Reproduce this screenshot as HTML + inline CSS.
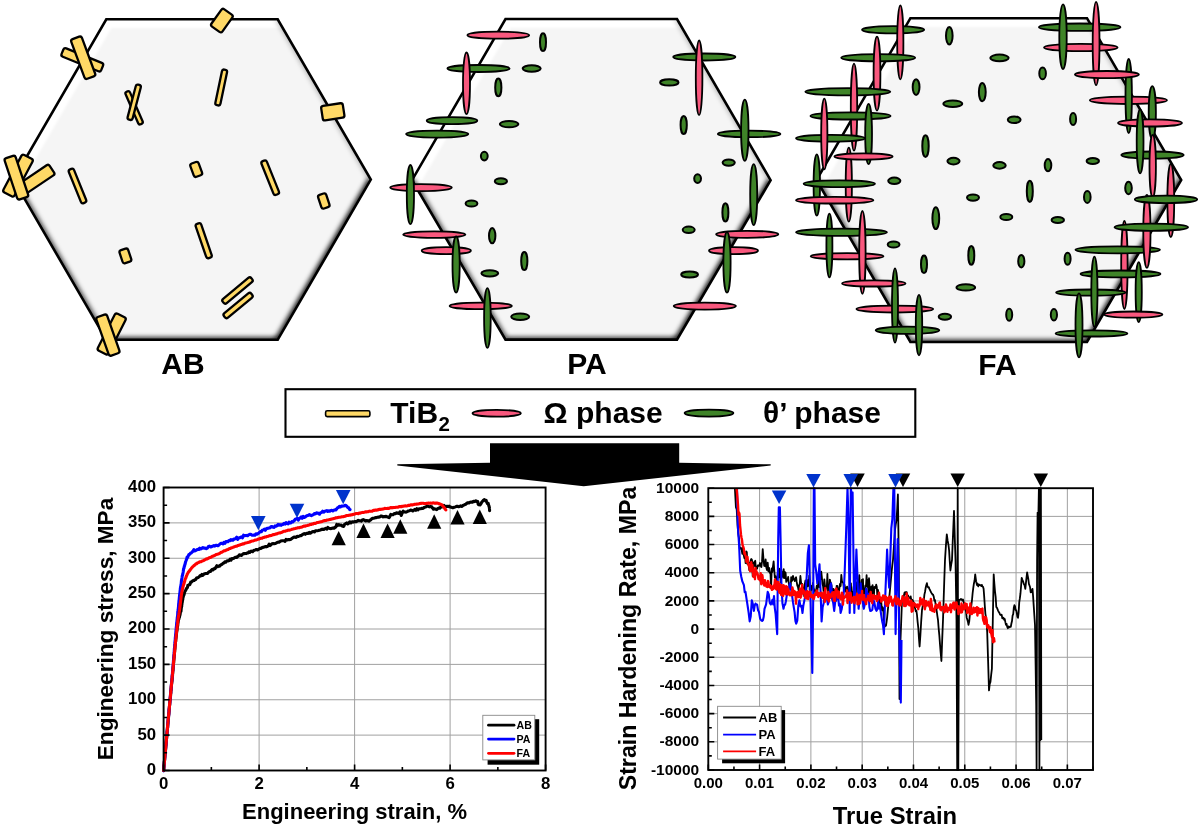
<!DOCTYPE html><html><head><meta charset="utf-8"><style>html,body{margin:0;padding:0;background:#fff;overflow:hidden}svg{display:block;will-change:transform}</style></head><body>
<svg width="1200" height="828" viewBox="0 0 1200 828" font-family='"Liberation Sans", sans-serif'>
<defs>
<filter id="bl12" filterUnits="userSpaceOnUse" x="0" y="0" width="1200" height="828"><feGaussianBlur stdDeviation="1.2"/></filter>
<filter id="bl15" filterUnits="userSpaceOnUse" x="0" y="0" width="1200" height="828"><feGaussianBlur stdDeviation="1.5"/></filter>
<filter id="bl20" filterUnits="userSpaceOnUse" x="0" y="0" width="1200" height="828"><feGaussianBlur stdDeviation="2.4"/></filter>
<filter id="bl28" filterUnits="userSpaceOnUse" x="0" y="0" width="1200" height="828"><feGaussianBlur stdDeviation="2.8"/></filter>
</defs>
<rect width="1200" height="828" fill="#fff"/>
<clipPath id="clipAB"><polygon points="106.3,19.3 277.7,19.3 370.8,179.6 277.7,339.8 106.3,339.8 13.4,179.6"/></clipPath>
<g clip-path="url(#clipAB)">
<polygon points="106.3,19.3 277.7,19.3 370.8,179.6 277.7,339.8 106.3,339.8 13.4,179.6" fill="#f5f5f5"/>
<path d="M13.4 179.6 L106.3 19.3 L277.7 19.3 L317.7 19.3" fill="none" stroke="#fff" stroke-width="17.5" stroke-linejoin="miter" filter="url(#bl12)"/>
<path d="M370.8 179.6 L277.7 339.8 L274.7 339.8" fill="none" stroke="#000" stroke-width="5.72" stroke-linejoin="miter" filter="url(#bl28)"/>
<path d="M277.7 339.8 L106.3 339.8" fill="none" stroke="#000" stroke-width="4.4" stroke-linejoin="miter" filter="url(#bl20)"/>
<path d="M106.3 339.8 L13.4 179.6" fill="none" stroke="#000" stroke-opacity="0.85" stroke-width="4.62" filter="url(#bl20)"/>
<path d="M277.7 19.3 L370.8 179.6" fill="none" stroke="#000" stroke-opacity="0.35" stroke-width="3.52" filter="url(#bl20)"/>
</g>
<polygon points="106.3,19.3 277.7,19.3 370.8,179.6 277.7,339.8 106.3,339.8 13.4,179.6" fill="none" stroke="#000" stroke-width="2.6" stroke-linejoin="miter"/>
<clipPath id="clipPA"><polygon points="505.5,19 677,19 770.6,180.2 677,339.6 505.5,339.6 412,180.2"/></clipPath>
<g clip-path="url(#clipPA)">
<polygon points="505.5,19 677,19 770.6,180.2 677,339.6 505.5,339.6 412,180.2" fill="#f5f5f5"/>
<path d="M412 180.2 L505.5 19 L677 19 L717 19" fill="none" stroke="#fff" stroke-width="17.5" stroke-linejoin="miter" filter="url(#bl12)"/>
<path d="M770.6 180.2 L677 339.6 L674 339.6" fill="none" stroke="#000" stroke-width="5.72" stroke-linejoin="miter" filter="url(#bl28)"/>
<path d="M677 339.6 L505.5 339.6" fill="none" stroke="#000" stroke-width="4.4" stroke-linejoin="miter" filter="url(#bl20)"/>
<path d="M505.5 339.6 L412 180.2" fill="none" stroke="#000" stroke-opacity="0.85" stroke-width="4.62" filter="url(#bl20)"/>
<path d="M677 19 L770.6 180.2" fill="none" stroke="#000" stroke-opacity="0.35" stroke-width="3.52" filter="url(#bl20)"/>
</g>
<polygon points="505.5,19 677,19 770.6,180.2 677,339.6 505.5,339.6 412,180.2" fill="none" stroke="#000" stroke-width="2.6" stroke-linejoin="miter"/>
<clipPath id="clipFA"><polygon points="910.4,18.2 1087,18.2 1181.2,180 1087,342 910.4,342 816.5,180"/></clipPath>
<g clip-path="url(#clipFA)">
<polygon points="910.4,18.2 1087,18.2 1181.2,180 1087,342 910.4,342 816.5,180" fill="#f5f5f5"/>
<path d="M816.5 180 L910.4 18.2 L1087 18.2 L1127 18.2" fill="none" stroke="#fff" stroke-width="17.5" stroke-linejoin="miter" filter="url(#bl12)"/>
<path d="M1181.2 180 L1087 342 L1084 342" fill="none" stroke="#000" stroke-width="5.72" stroke-linejoin="miter" filter="url(#bl28)"/>
<path d="M1087 342 L910.4 342" fill="none" stroke="#000" stroke-width="4.4" stroke-linejoin="miter" filter="url(#bl20)"/>
<path d="M910.4 342 L816.5 180" fill="none" stroke="#000" stroke-opacity="0.85" stroke-width="4.62" filter="url(#bl20)"/>
<path d="M1087 18.2 L1181.2 180" fill="none" stroke="#000" stroke-opacity="0.35" stroke-width="3.52" filter="url(#bl20)"/>
</g>
<polygon points="910.4,18.2 1087,18.2 1181.2,180 1087,342 910.4,342 816.5,180" fill="none" stroke="#000" stroke-width="2.6" stroke-linejoin="miter"/>
<rect x="-6.75" y="-10.6" width="13.5" height="21.2" rx="2.2" transform="translate(221.9 20.6) rotate(35.5)" fill="#FFD966" stroke="#000" stroke-width="2.3"/>
<rect x="-21.4" y="-4.55" width="42.8" height="9.1" rx="2.2" transform="translate(82.3 59.8) rotate(22.2)" fill="#FFD966" stroke="#000" stroke-width="2.3"/>
<rect x="-5.7" y="-21.15" width="11.4" height="42.3" rx="2.2" transform="translate(83.2 57.7) rotate(-20.3)" fill="#FFD966" stroke="#000" stroke-width="2.3"/>
<rect x="-2.4" y="-17.7" width="4.8" height="35.4" rx="1.92" transform="translate(134.1 107.8) rotate(-23.5)" fill="#FFD966" stroke="#000" stroke-width="2.3"/>
<rect x="-2.6" y="-18.05" width="5.2" height="36.1" rx="2.08" transform="translate(134.2 102.3) rotate(14.7)" fill="#FFD966" stroke="#000" stroke-width="2.3"/>
<rect x="-2.6" y="-18.2" width="5.2" height="36.4" rx="2.08" transform="translate(221.2 87.5) rotate(11.8)" fill="#FFD966" stroke="#000" stroke-width="2.3"/>
<rect x="-10.95" y="-7.3" width="21.9" height="14.6" rx="2.2" transform="translate(332.8 111.8) rotate(-8.7)" fill="#FFD966" stroke="#000" stroke-width="2.3"/>
<rect x="-6.3" y="-21.2" width="12.6" height="42.4" rx="2.2" transform="translate(18 175.6) rotate(28)" fill="#FFD966" stroke="#000" stroke-width="2.3"/>
<rect x="-19.7" y="-6.05" width="39.4" height="12.1" rx="2.2" transform="translate(35.5 180.1) rotate(-34)" fill="#FFD966" stroke="#000" stroke-width="2.3"/>
<rect x="-5.8" y="-21.7" width="11.6" height="43.4" rx="2.2" transform="translate(16.4 177.6) rotate(-18.4)" fill="#FFD966" stroke="#000" stroke-width="2.3"/>
<rect x="-2.8" y="-18.2" width="5.6" height="36.4" rx="2.2" transform="translate(77.5 186) rotate(-22)" fill="#FFD966" stroke="#000" stroke-width="2.3"/>
<rect x="-4.4" y="-7.05" width="8.8" height="14.1" rx="2.2" transform="translate(196.2 169.4) rotate(-20)" fill="#FFD966" stroke="#000" stroke-width="2.3"/>
<rect x="-2.9" y="-18.15" width="5.8" height="36.3" rx="2.2" transform="translate(270.2 177.7) rotate(-21.9)" fill="#FFD966" stroke="#000" stroke-width="2.3"/>
<rect x="-4.25" y="-7.2" width="8.5" height="14.4" rx="2.2" transform="translate(323.8 201) rotate(-18.3)" fill="#FFD966" stroke="#000" stroke-width="2.3"/>
<rect x="-2.9" y="-18.1" width="5.8" height="36.2" rx="2.2" transform="translate(203.7 240.7) rotate(-19)" fill="#FFD966" stroke="#000" stroke-width="2.3"/>
<rect x="-4.55" y="-6.85" width="9.1" height="13.7" rx="2.2" transform="translate(125.4 255.9) rotate(-18.4)" fill="#FFD966" stroke="#000" stroke-width="2.3"/>
<rect x="-18.55" y="-2.8" width="37.1" height="5.6" rx="2.2" transform="translate(237.5 290.5) rotate(-39.7)" fill="#FFD966" stroke="#000" stroke-width="2.3"/>
<rect x="-17.7" y="-2.8" width="35.4" height="5.6" rx="2.2" transform="translate(238.1 305.5) rotate(-39.6)" fill="#FFD966" stroke="#000" stroke-width="2.3"/>
<rect x="-6.05" y="-20.7" width="12.1" height="41.4" rx="2.2" transform="translate(111.7 334) rotate(26.9)" fill="#FFD966" stroke="#000" stroke-width="2.3"/>
<rect x="-5.7" y="-20.45" width="11.4" height="40.9" rx="2.2" transform="translate(107.9 335.1) rotate(-19.4)" fill="#FFD966" stroke="#000" stroke-width="2.3"/>
<ellipse cx="498.3" cy="35.2" rx="30.9" ry="3.5" fill="#F9587E" stroke="#000" stroke-width="1.8"/>
<ellipse cx="543" cy="42.2" rx="3" ry="8.9" fill="#3F8428" stroke="#000" stroke-width="2.0"/>
<ellipse cx="478.5" cy="68.5" rx="31.1" ry="3.5" fill="#3F8428" stroke="#000" stroke-width="1.8"/>
<ellipse cx="466.5" cy="83.3" rx="3.5" ry="30.8" fill="#F9587E" stroke="#000" stroke-width="1.8"/>
<ellipse cx="531.7" cy="68.5" rx="9" ry="3.2" fill="#3F8428" stroke="#000" stroke-width="2.0"/>
<ellipse cx="498.3" cy="87.4" rx="3.1" ry="8.9" fill="#3F8428" stroke="#000" stroke-width="2.0"/>
<ellipse cx="452" cy="120.7" rx="25.3" ry="3.5" fill="#3F8428" stroke="#000" stroke-width="1.8"/>
<ellipse cx="509.1" cy="124.1" rx="9.2" ry="3.2" fill="#3F8428" stroke="#000" stroke-width="2.0"/>
<ellipse cx="437.2" cy="134.1" rx="31.1" ry="3.5" fill="#3F8428" stroke="#000" stroke-width="1.8"/>
<ellipse cx="484.3" cy="156.1" rx="3.4" ry="4.3" fill="#3F8428" stroke="#000" stroke-width="2.0"/>
<ellipse cx="500.9" cy="181.3" rx="6.1" ry="3" fill="#3F8428" stroke="#000" stroke-width="2.0"/>
<ellipse cx="421" cy="187.6" rx="30.8" ry="3.5" fill="#F9587E" stroke="#000" stroke-width="1.8"/>
<ellipse cx="410.4" cy="194.6" rx="3.6" ry="29.6" fill="#3F8428" stroke="#000" stroke-width="1.8"/>
<ellipse cx="471.5" cy="203.4" rx="5.9" ry="3" fill="#3F8428" stroke="#000" stroke-width="2.0"/>
<ellipse cx="434.3" cy="234.6" rx="31.1" ry="3.3" fill="#F9587E" stroke="#000" stroke-width="1.8"/>
<ellipse cx="446.3" cy="250.7" rx="24.6" ry="3.5" fill="#F9587E" stroke="#000" stroke-width="1.8"/>
<ellipse cx="456.1" cy="264.6" rx="3.6" ry="28.1" fill="#3F8428" stroke="#000" stroke-width="1.8"/>
<ellipse cx="492.2" cy="235.7" rx="3.2" ry="7.6" fill="#3F8428" stroke="#000" stroke-width="2.0"/>
<ellipse cx="524.3" cy="261.1" rx="3.1" ry="9" fill="#3F8428" stroke="#000" stroke-width="2.0"/>
<ellipse cx="489.8" cy="273.3" rx="8.4" ry="3.1" fill="#3F8428" stroke="#000" stroke-width="2.0"/>
<ellipse cx="480.7" cy="305.9" rx="31.1" ry="3.3" fill="#F9587E" stroke="#000" stroke-width="1.8"/>
<ellipse cx="487.4" cy="318" rx="3.3" ry="29.8" fill="#3F8428" stroke="#000" stroke-width="1.8"/>
<ellipse cx="520.2" cy="316.7" rx="9" ry="3.3" fill="#3F8428" stroke="#000" stroke-width="2.0"/>
<ellipse cx="704.3" cy="57" rx="31.1" ry="3.5" fill="#3F8428" stroke="#000" stroke-width="1.8"/>
<ellipse cx="699.1" cy="77.8" rx="3.3" ry="37.3" fill="#F9587E" stroke="#000" stroke-width="1.8"/>
<ellipse cx="669.3" cy="82.4" rx="9.2" ry="3.1" fill="#3F8428" stroke="#000" stroke-width="2.0"/>
<ellipse cx="683.7" cy="125" rx="3.1" ry="9" fill="#3F8428" stroke="#000" stroke-width="2.0"/>
<ellipse cx="749.1" cy="133.9" rx="31.3" ry="3.3" fill="#3F8428" stroke="#000" stroke-width="1.8"/>
<ellipse cx="744.8" cy="130.2" rx="3.7" ry="30.6" fill="#3F8428" stroke="#000" stroke-width="1.8"/>
<ellipse cx="728.7" cy="162.6" rx="6.1" ry="3.2" fill="#3F8428" stroke="#000" stroke-width="2.0"/>
<ellipse cx="697.6" cy="178.6" rx="3.4" ry="4.4" fill="#3F8428" stroke="#000" stroke-width="2.0"/>
<ellipse cx="753.7" cy="194.6" rx="3.5" ry="30.5" fill="#3F8428" stroke="#000" stroke-width="1.8"/>
<ellipse cx="725.4" cy="212.4" rx="3" ry="9.2" fill="#3F8428" stroke="#000" stroke-width="2.0"/>
<ellipse cx="688.7" cy="229.8" rx="6" ry="3.2" fill="#3F8428" stroke="#000" stroke-width="2.0"/>
<ellipse cx="747.2" cy="234.3" rx="31.1" ry="3.5" fill="#F9587E" stroke="#000" stroke-width="1.8"/>
<ellipse cx="733.5" cy="250.7" rx="24.5" ry="3.5" fill="#F9587E" stroke="#000" stroke-width="1.8"/>
<ellipse cx="727" cy="262.4" rx="3.6" ry="30.2" fill="#3F8428" stroke="#000" stroke-width="1.8"/>
<ellipse cx="689.6" cy="274.6" rx="8.4" ry="3" fill="#3F8428" stroke="#000" stroke-width="2.0"/>
<ellipse cx="704.8" cy="306.1" rx="31.1" ry="3.5" fill="#F9587E" stroke="#000" stroke-width="1.8"/>
<ellipse cx="893.1" cy="29.8" rx="31.1" ry="3.6" fill="#3F8428" stroke="#000" stroke-width="1.8"/>
<ellipse cx="900.3" cy="42.3" rx="3.1" ry="37" fill="#F9587E" stroke="#000" stroke-width="1.8"/>
<ellipse cx="878.2" cy="57.7" rx="37" ry="3.6" fill="#3F8428" stroke="#000" stroke-width="1.8"/>
<ellipse cx="877" cy="73.6" rx="3.4" ry="37" fill="#F9587E" stroke="#000" stroke-width="1.8"/>
<ellipse cx="847.8" cy="91.8" rx="42.5" ry="3.6" fill="#3F8428" stroke="#000" stroke-width="1.8"/>
<ellipse cx="854" cy="107.2" rx="3.2" ry="43.5" fill="#F9587E" stroke="#000" stroke-width="1.8"/>
<ellipse cx="850.5" cy="115.9" rx="40.1" ry="3.6" fill="#3F8428" stroke="#000" stroke-width="1.8"/>
<ellipse cx="868.6" cy="134" rx="3.4" ry="30.2" fill="#3F8428" stroke="#000" stroke-width="1.8"/>
<ellipse cx="830.5" cy="138.2" rx="34.5" ry="3.4" fill="#3F8428" stroke="#000" stroke-width="1.8"/>
<ellipse cx="824.3" cy="134" rx="3.1" ry="35.3" fill="#F9587E" stroke="#000" stroke-width="1.8"/>
<ellipse cx="848.8" cy="184.7" rx="3.1" ry="37" fill="#F9587E" stroke="#000" stroke-width="1.8"/>
<ellipse cx="863.5" cy="156.5" rx="29.1" ry="3.1" fill="#F9587E" stroke="#000" stroke-width="1.8"/>
<ellipse cx="816.8" cy="185" rx="3.2" ry="30.7" fill="#3F8428" stroke="#000" stroke-width="1.8"/>
<ellipse cx="839.3" cy="183.8" rx="35.7" ry="3.4" fill="#3F8428" stroke="#000" stroke-width="1.8"/>
<ellipse cx="834.7" cy="200.2" rx="38.7" ry="3.3" fill="#F9587E" stroke="#000" stroke-width="1.8"/>
<ellipse cx="847.1" cy="256.3" rx="36.4" ry="3.1" fill="#F9587E" stroke="#000" stroke-width="1.8"/>
<ellipse cx="829.4" cy="245.5" rx="3" ry="31.9" fill="#3F8428" stroke="#000" stroke-width="1.8"/>
<ellipse cx="841.5" cy="232.3" rx="45.5" ry="3.6" fill="#3F8428" stroke="#000" stroke-width="1.8"/>
<ellipse cx="862.4" cy="252.4" rx="3.2" ry="41.4" fill="#F9587E" stroke="#000" stroke-width="1.8"/>
<ellipse cx="873.8" cy="283.4" rx="31.7" ry="3.1" fill="#F9587E" stroke="#000" stroke-width="1.8"/>
<ellipse cx="894.8" cy="309.1" rx="38.4" ry="3.4" fill="#F9587E" stroke="#000" stroke-width="1.8"/>
<ellipse cx="895" cy="305.5" rx="3" ry="37.2" fill="#3F8428" stroke="#000" stroke-width="1.8"/>
<ellipse cx="907.5" cy="330.3" rx="31.8" ry="3.6" fill="#3F8428" stroke="#000" stroke-width="1.8"/>
<ellipse cx="919" cy="325.1" rx="3.2" ry="30.2" fill="#3F8428" stroke="#000" stroke-width="1.8"/>
<ellipse cx="916.1" cy="87.1" rx="3.4" ry="7.9" fill="#3F8428" stroke="#000" stroke-width="2.0"/>
<ellipse cx="925.5" cy="146.1" rx="3.2" ry="10.8" fill="#3F8428" stroke="#000" stroke-width="2.0"/>
<ellipse cx="894.3" cy="180.8" rx="6.1" ry="3.2" fill="#3F8428" stroke="#000" stroke-width="2.0"/>
<ellipse cx="935.8" cy="218.2" rx="3.4" ry="10.9" fill="#3F8428" stroke="#000" stroke-width="2.0"/>
<ellipse cx="893.6" cy="244.6" rx="5.9" ry="3" fill="#3F8428" stroke="#000" stroke-width="2.0"/>
<ellipse cx="924" cy="264.3" rx="3" ry="8.7" fill="#3F8428" stroke="#000" stroke-width="2.0"/>
<ellipse cx="944.9" cy="316.8" rx="6.2" ry="3" fill="#3F8428" stroke="#000" stroke-width="2.0"/>
<ellipse cx="965.8" cy="287.4" rx="9.3" ry="3.2" fill="#3F8428" stroke="#000" stroke-width="2.0"/>
<ellipse cx="949.3" cy="35.7" rx="3.3" ry="8.8" fill="#3F8428" stroke="#000" stroke-width="2.0"/>
<ellipse cx="999.5" cy="57.9" rx="9.1" ry="3.3" fill="#3F8428" stroke="#000" stroke-width="2.0"/>
<ellipse cx="1042.6" cy="73.4" rx="3.3" ry="5.9" fill="#3F8428" stroke="#000" stroke-width="2.0"/>
<ellipse cx="982.3" cy="92.1" rx="3.4" ry="9.1" fill="#3F8428" stroke="#000" stroke-width="2.0"/>
<ellipse cx="952.8" cy="103.7" rx="9.4" ry="3.3" fill="#3F8428" stroke="#000" stroke-width="2.0"/>
<ellipse cx="1014.2" cy="119.8" rx="6.4" ry="3.3" fill="#3F8428" stroke="#000" stroke-width="2.0"/>
<ellipse cx="953.5" cy="161.1" rx="6.1" ry="3.3" fill="#3F8428" stroke="#000" stroke-width="2.0"/>
<ellipse cx="999.5" cy="165.4" rx="6.2" ry="3.3" fill="#3F8428" stroke="#000" stroke-width="2.0"/>
<ellipse cx="1048" cy="165.2" rx="3.3" ry="6.1" fill="#3F8428" stroke="#000" stroke-width="2.0"/>
<ellipse cx="1073.1" cy="119" rx="3" ry="6" fill="#3F8428" stroke="#000" stroke-width="2.0"/>
<ellipse cx="1092.8" cy="161.1" rx="6.2" ry="3" fill="#3F8428" stroke="#000" stroke-width="2.0"/>
<ellipse cx="1128.5" cy="188" rx="3.3" ry="6.2" fill="#3F8428" stroke="#000" stroke-width="2.0"/>
<ellipse cx="1087.3" cy="196.9" rx="3.3" ry="6" fill="#3F8428" stroke="#000" stroke-width="2.0"/>
<ellipse cx="1057.8" cy="220" rx="6.2" ry="3.1" fill="#3F8428" stroke="#000" stroke-width="2.0"/>
<ellipse cx="1067.6" cy="258.7" rx="3" ry="6" fill="#3F8428" stroke="#000" stroke-width="2.0"/>
<ellipse cx="1053.9" cy="314.7" rx="3.1" ry="5.7" fill="#3F8428" stroke="#000" stroke-width="2.0"/>
<ellipse cx="1029.8" cy="191.3" rx="3" ry="10.6" fill="#3F8428" stroke="#000" stroke-width="2.0"/>
<ellipse cx="973" cy="197.6" rx="6" ry="3.1" fill="#3F8428" stroke="#000" stroke-width="2.0"/>
<ellipse cx="1006.3" cy="217" rx="6" ry="3.1" fill="#3F8428" stroke="#000" stroke-width="2.0"/>
<ellipse cx="971.3" cy="255.4" rx="3" ry="9.3" fill="#3F8428" stroke="#000" stroke-width="2.0"/>
<ellipse cx="1021.3" cy="261.2" rx="3.1" ry="6.2" fill="#3F8428" stroke="#000" stroke-width="2.0"/>
<ellipse cx="1009.2" cy="314.8" rx="3" ry="6" fill="#3F8428" stroke="#000" stroke-width="2.0"/>
<ellipse cx="1079.7" cy="27.2" rx="40.8" ry="3.7" fill="#3F8428" stroke="#000" stroke-width="1.8"/>
<ellipse cx="1080.8" cy="47.5" rx="36.8" ry="3.6" fill="#F9587E" stroke="#000" stroke-width="1.8"/>
<ellipse cx="1063" cy="36.7" rx="3.7" ry="32.3" fill="#3F8428" stroke="#000" stroke-width="1.8"/>
<ellipse cx="1096.1" cy="43.5" rx="3.4" ry="41.7" fill="#F9587E" stroke="#000" stroke-width="1.8"/>
<ellipse cx="1128.4" cy="100.3" rx="38.6" ry="3.7" fill="#F9587E" stroke="#000" stroke-width="1.8"/>
<ellipse cx="1128.7" cy="96" rx="3.2" ry="37" fill="#3F8428" stroke="#000" stroke-width="1.8"/>
<ellipse cx="1106.9" cy="74.6" rx="32" ry="3.6" fill="#F9587E" stroke="#000" stroke-width="1.8"/>
<ellipse cx="1152.3" cy="112.5" rx="3.6" ry="26.4" fill="#3F8428" stroke="#000" stroke-width="1.8"/>
<ellipse cx="1150" cy="122.9" rx="32" ry="3.6" fill="#F9587E" stroke="#000" stroke-width="1.8"/>
<ellipse cx="1152.5" cy="155.1" rx="31.2" ry="3.6" fill="#3F8428" stroke="#000" stroke-width="1.8"/>
<ellipse cx="1140.1" cy="141.4" rx="3.4" ry="31.9" fill="#3F8428" stroke="#000" stroke-width="1.8"/>
<ellipse cx="1152.7" cy="166.1" rx="3.2" ry="31.2" fill="#F9587E" stroke="#000" stroke-width="1.8"/>
<ellipse cx="1124.4" cy="265" rx="3.2" ry="44" fill="#F9587E" stroke="#000" stroke-width="1.8"/>
<ellipse cx="1117.7" cy="249.8" rx="42.3" ry="3.5" fill="#3F8428" stroke="#000" stroke-width="1.8"/>
<ellipse cx="1120.5" cy="273.9" rx="40" ry="3.4" fill="#3F8428" stroke="#000" stroke-width="1.8"/>
<ellipse cx="1170.8" cy="200.5" rx="3.4" ry="36.5" fill="#F9587E" stroke="#000" stroke-width="1.8"/>
<ellipse cx="1146.9" cy="231.4" rx="3.6" ry="36.5" fill="#F9587E" stroke="#000" stroke-width="1.8"/>
<ellipse cx="1166" cy="199.4" rx="31.2" ry="3.7" fill="#3F8428" stroke="#000" stroke-width="1.8"/>
<ellipse cx="1151.3" cy="227.2" rx="36.8" ry="3.6" fill="#3F8428" stroke="#000" stroke-width="1.8"/>
<ellipse cx="1090.8" cy="292.6" rx="34.7" ry="3.1" fill="#3F8428" stroke="#000" stroke-width="1.8"/>
<ellipse cx="1094.4" cy="291.8" rx="3.1" ry="35.1" fill="#3F8428" stroke="#000" stroke-width="1.8"/>
<ellipse cx="1138.7" cy="292.1" rx="3.1" ry="30" fill="#3F8428" stroke="#000" stroke-width="1.8"/>
<ellipse cx="1133.3" cy="314.6" rx="29.1" ry="3.1" fill="#F9587E" stroke="#000" stroke-width="1.8"/>
<ellipse cx="1091.5" cy="333.4" rx="35.9" ry="3.1" fill="#3F8428" stroke="#000" stroke-width="1.8"/>
<ellipse cx="1079" cy="325.3" rx="3.5" ry="32" fill="#3F8428" stroke="#000" stroke-width="1.8"/>
<text transform="translate(183 374)" font-size="30" font-weight="bold" text-anchor="middle">AB</text>
<text transform="translate(587 374)" font-size="30" font-weight="bold" text-anchor="middle">PA</text>
<text transform="translate(997.5 374.5)" font-size="30" font-weight="bold" text-anchor="middle">FA</text>
<rect x="285.5" y="389.2" width="629.8" height="47.6" fill="#fff" stroke="#000" stroke-width="2.1"/>
<rect x="325.6" y="410.8" width="44.3" height="5.8" rx="1.6" fill="#FFD966" stroke="#000" stroke-width="1.6"/>
<ellipse cx="496.7" cy="413.3" rx="24.2" ry="3.4" fill="#F9587E" stroke="#000" stroke-width="1.8"/>
<ellipse cx="709.0" cy="413.1" rx="24.4" ry="3.5" fill="#3F8428" stroke="#000" stroke-width="1.8"/>
<text transform="translate(390.3 423)" font-size="30" font-weight="bold" text-anchor="start">TiB</text>
<text transform="translate(438.5 430.5)" font-size="20.5" font-weight="bold" text-anchor="start">2</text>
<text transform="translate(543.6 423.1)" font-size="30" font-weight="bold" text-anchor="start">&#937; phase</text>
<text transform="translate(763 423.1)" font-size="30" font-weight="bold" text-anchor="start">&#952;&#8217; phase</text>
<polygon points="490,443.3 679.2,443.3 679.2,462.8 770.7,464.3 770.7,465.6 583.7,486.2 397.3,465.6 397.3,464.3 490,462.8" fill="#000"/>
<line x1="259.1" y1="487.5" x2="259.1" y2="770.5" stroke="#a0a0a0" stroke-width="1"/>
<line x1="354.6" y1="487.5" x2="354.6" y2="770.5" stroke="#a0a0a0" stroke-width="1"/>
<line x1="450.1" y1="487.5" x2="450.1" y2="770.5" stroke="#a0a0a0" stroke-width="1"/>
<line x1="163.6" y1="735.12" x2="545.6" y2="735.12" stroke="#a0a0a0" stroke-width="1"/>
<line x1="163.6" y1="699.75" x2="545.6" y2="699.75" stroke="#a0a0a0" stroke-width="1"/>
<line x1="163.6" y1="664.38" x2="545.6" y2="664.38" stroke="#a0a0a0" stroke-width="1"/>
<line x1="163.6" y1="629" x2="545.6" y2="629" stroke="#a0a0a0" stroke-width="1"/>
<line x1="163.6" y1="593.62" x2="545.6" y2="593.62" stroke="#a0a0a0" stroke-width="1"/>
<line x1="163.6" y1="558.25" x2="545.6" y2="558.25" stroke="#a0a0a0" stroke-width="1"/>
<line x1="163.6" y1="522.88" x2="545.6" y2="522.88" stroke="#a0a0a0" stroke-width="1"/>
<g fill="none" stroke-linejoin="round" stroke-linecap="round">
<polyline points="163.6,770.5 163.69,770.08 163.79,769.15 163.88,767.53 163.97,766.16 164.07,765.01 164.16,764.52 164.25,763.04 164.34,761.86 164.44,761.59 164.53,760.56 164.62,759.75 164.71,758.09 164.81,757.5 164.9,756.47 164.99,754.83 165.08,754.75 165.17,753.65 165.27,753.58 165.36,751.59 165.45,750.44 165.54,750.06 165.63,748.59 165.73,747.91 165.82,746.34 165.91,745.6 166,744.97 166.09,743.82 166.18,742.56 166.28,741.02 166.37,740.7 166.46,739.54 166.55,738.83 166.64,737.6 166.73,736.99 166.83,735.48 166.92,734.6 167.01,733.81 167.1,732.02 167.19,731.32 167.28,730.28 167.38,730.4 167.47,728.46 167.56,727.8 167.65,726.78 167.74,725.38 167.84,723.81 167.93,723.94 168.02,722.32 168.11,721.83 168.21,719.92 168.3,719.31 168.39,719.07 168.48,718.15 168.58,715.92 168.67,714.91 168.76,714.49 168.85,713.84 168.95,712.58 169.04,711.65 169.13,710.06 169.23,709.77 169.32,709.01 169.41,707.31 169.51,705.86 169.6,705.17 169.7,704.85 169.79,702.73 169.88,702.47 169.98,701.07 170.07,700.45 170.17,699.4 170.26,698.52 170.36,698.19 170.45,696.7 170.55,696.11 170.64,694.45 170.74,693.3 170.83,692.69 170.93,690.24 171.03,690.5 171.12,689.59 171.22,687.96 171.32,687.73 171.41,686.27 171.51,684.41 171.61,684.42 171.7,683.08 171.8,682.29 171.9,681.45 172,681.09 172.1,679.57 172.19,678.51 172.29,677.7 172.39,675.7 172.49,676.07 172.58,674.02 172.67,673.7 172.77,671.99 172.86,671.05 172.95,670.3 173.04,670.33 173.13,668.78 173.22,667.19 173.31,666.33 173.39,664.93 173.48,664.43 173.57,663.18 173.66,662.75 173.74,660.81 173.83,660.26 173.92,659.03 174.01,658.07 174.1,657.71 174.18,656.44 174.27,655.64 174.36,654.9 174.45,653.88 174.54,651.74 174.64,651.59 174.73,649.55 174.82,649.31 174.92,649.19 175.01,647.24 175.11,646.15 175.21,645.39 175.31,644.32 175.41,643.32 175.52,641.96 175.62,641.79 175.73,640.7 175.84,639.2 175.95,638.43 176.07,637.59 176.18,636.75 176.3,635.47 176.42,634.6 176.54,633.17 176.67,631.81 176.8,631.07 176.93,630.76 177.06,629.74 177.2,628.37 177.34,627.06 177.48,626.46 177.62,626.07 177.77,624.94 177.92,623.03 178.1,622.29 178.3,620.63 178.52,619.75 178.75,619.32 179,618.23 179.26,617.63 179.52,616.75 179.78,615.53 180.04,614.73 180.3,612.87 180.54,611.58 180.77,611.29 180.98,611.24 181.17,609.18 181.35,607.48 181.51,607.08 181.66,606.58 181.81,604.44 181.96,604.23 182.1,602.56 182.25,602.38 182.41,601.14 182.58,599.9 182.76,599.64 182.96,597.55 183.17,596.43 183.42,596.58 183.71,594.36 184.06,594.76 184.45,592.78 184.89,591.36 185.34,590.88 185.8,590 186.29,589.1 186.81,587.98 187.36,587.63 187.94,585.21 188.55,585.14 189.19,584.45 189.9,584.6 190.67,582.14 191.48,582.16 192.32,581.1 193.17,580.63 194.02,580.54 194.86,579.75 195.72,579.51 196.58,577.91 197.45,577.63 198.34,577.39 199.25,576.68 200.18,575.57 201.05,575.79 201.96,574.46 202.89,575.31 203.83,574.21 204.78,573.74 205.72,573.56 206.66,573.45 207.59,573.47 208.48,572.19 209.45,571.58 210.4,571.46 211.33,570.23 212.25,569.26 213.17,569.78 214.09,568.62 215.02,568.69 215.95,567.13 216.89,565.72 217.76,566.64 218.63,566.07 219.51,566.21 220.38,565.22 221.26,564.61 222.14,564.23 223.02,563.29 223.9,562.99 224.79,561.85 225.68,562.2 226.56,561.12 227.46,560.8 228.35,560.85 229.25,560.48 230.15,559.16 231.06,560.07 231.96,558.47 232.88,558.68 233.79,558.32 234.71,557.6 235.62,557.19 236.55,557.54 237.48,556.76 238.41,556.2 239.34,554.82 240.28,554.96 241.23,555.47 242.17,554.69 243.12,553.84 244.06,553.64 245.01,553.46 245.96,553.58 246.91,553.11 247.86,553.05 248.81,551.9 249.75,552.38 250.7,551.37 251.64,551.13 252.58,551.71 253.53,550.63 254.47,550.21 255.42,549.85 256.36,549.44 257.31,549.99 258.25,549.58 259.2,548.95 260.19,548.36 261.18,548.39 262.17,547.53 263.16,547.4 264.15,547.02 265.15,546.51 266.14,546.85 267.13,546.53 268.12,545.98 269.11,544.16 270.1,545.49 271.1,544.63 272.09,543.77 273.09,543.63 274.09,543.82 275.09,543.52 276.1,543.07 277.08,542.46 278.07,542.14 279.06,542.23 280.05,541.55 281.05,540.94 282.05,540.81 283.05,540.79 284.05,540.75 285.04,541.37 286.04,539.48 287.03,540.06 288.02,539.53 289.01,539.43 289.99,539.62 291.03,539.24 292.05,538.27 293.08,537.74 294.1,537.01 295.12,537.22 296.14,537.45 297.16,536.4 298.18,536.48 299.21,536.14 300.21,535.67 301.22,535.65 302.22,534.79 303.23,534.14 304.23,533.67 305.24,534.3 306.25,533.41 307.27,533.14 308.28,533.37 309.3,532.36 310.32,533.25 311.34,532.5 312.37,531.72 313.39,531.43 314.42,531.96 315.45,530.69 316.47,530.69 317.5,530.73 318.52,530.55 319.54,530.16 320.56,530.01 321.58,529.36 322.6,529.16 323.62,529.51 324.65,528.99 325.68,528.31 326.71,529.17 327.76,527.43 328.84,528.32 329.92,528.55 331,528.65 332.06,528.23 333.07,527.95 334.02,528.3 334.97,527.49 335.85,526.89 336.73,524.47 337.7,525.38 338.88,524.64 340.14,525.27 341.28,525.12 342.3,526.03 343.19,526.44 343.8,526.21 344.36,524.65 345,524.03 345.78,523.53 346.67,522.92 347.66,523.97 348.71,523.21 349.81,521.78 350.94,522.95 352.06,521.76 353.16,522.12 354.22,521.76 355.23,521.56 356.23,521.65 357.24,521.13 358.25,520.35 359.26,520.75 360.27,520.69 361.27,521.14 362.28,520.04 363.29,519.65 364.45,520.16 365.61,520.94 366.76,520.56 367.87,520.78 368.82,521.17 369.74,520.44 370.65,519.93 371.56,518.95 372.51,518.4 373.49,518.28 374.48,518.01 375.49,517.58 376.51,517.6 377.54,517.36 378.57,517.12 379.6,516.89 380.64,516.15 381.67,516 382.79,516.89 383.92,516.6 385.04,516.75 386.15,516.31 387.21,516.91 388.98,517.64 389.62,516.91 390.16,515.77 390.79,514.42 391.75,514.67 392.92,514.81 394.17,513.67 395.38,513.72 396.6,512.8 397.88,513.18 399.05,513.38 399.96,511.85 400.66,513.54 401.25,515.52 401.83,513.93 402.49,512.46 403.18,511.17 404.03,511.77 405,512.05 406.07,512.11 407.2,511.62 408.36,510.93 409.52,510.75 410.65,510.08 411.71,510.22 412.75,510.98 413.79,510.18 414.83,509.38 415.87,510.31 416.91,508.7 417.94,509.75 418.98,508.77 420.02,508.81 421.05,508.69 422.08,508.23 423.11,508.39 424.13,507.55 425.17,507.12 426.2,506.72 427.24,506.14 428.28,506.29 429.48,506.85 430.69,506.62 431.72,506.8 432.4,507.93 432.96,508.16 433.52,509.21 434.2,508.91 435.37,509.05 436.68,509.64 437.7,508.66 438.74,508.17 439.77,508.18 440.79,506.95 441.85,507.01 442.89,506.26 443.93,505.42 444.99,506.52 446.02,506.66 447.07,506.26 448.14,506.63 449.19,506.15 450.22,506.93 451.25,507.21 452.27,507.67 453.3,507.73 454.36,507.21 455.42,506.85 456.48,506.39 457.54,506.32 458.59,506.66 459.64,506.41 460.68,505.93 461.7,506.43 462.76,505.68 463.81,505.03 464.84,504.51 465.87,504.17 466.89,503.24 467.92,502.77 468.96,502.95 470.01,502.17 471.17,501.95 472.4,502.24 473.63,501.24 474.81,501.61 475.85,500.81 476.7,501.41 477.28,501.42 477.75,501.56 478.19,504.27 478.64,504.76 479.18,504.45 479.97,504.92 480.87,503.92 481.71,502.2 482.37,501.46 482.98,500.77 483.57,500.15 484.19,499.62 484.81,500.01 485.45,500.84 486.08,500.31 486.68,502.1 487.42,503.52 488.19,503.25 488.83,505.85 489.21,507 489.34,507.24 489.43,508.45 489.51,509.24 489.59,510.71" stroke="#000" stroke-width="3.1"/>
<polyline points="163.6,770.5 163.69,770.79 163.78,768.14 163.87,767.72 163.96,766.59 164.05,765.97 164.14,763.74 164.23,763.29 164.33,762.1 164.42,760.93 164.51,760.06 164.6,759.24 164.69,758.37 164.78,757.03 164.87,756.76 164.96,755.23 165.05,752.77 165.15,754.19 165.24,752.32 165.33,751.13 165.42,750.69 165.51,749.67 165.6,748.58 165.69,747.08 165.78,746.66 165.88,744.71 165.97,745.35 166.06,742.86 166.15,742.45 166.24,741.57 166.33,740.68 166.42,739.43 166.52,738.83 166.61,735.57 166.7,736.44 166.79,735.41 166.88,734.27 166.97,734.35 167.06,731.97 167.16,731.47 167.25,729.39 167.34,729.67 167.43,727.62 167.52,726.65 167.61,727.82 167.7,725.91 167.79,724.52 167.89,723.62 167.98,721.73 168.07,720.95 168.16,720.77 168.25,718.36 168.34,718.69 168.43,716.57 168.52,716.61 168.61,714.92 168.71,715.52 168.8,714.11 168.89,712.26 168.98,710.5 169.07,710.12 169.16,709.52 169.25,708 169.34,707.72 169.43,707.11 169.52,705.53 169.61,704.32 169.7,704 169.79,702.41 169.88,702.05 169.97,700.4 170.06,700.48 170.15,698.42 170.24,696.99 170.33,696.64 170.42,695.23 170.51,694.06 170.6,693.52 170.69,693.01 170.78,690.39 170.87,690.57 170.96,689.51 171.05,688.52 171.14,688.05 171.22,685.87 171.31,685.98 171.4,684.48 171.49,683.67 171.58,682.49 171.67,681.43 171.76,680.33 171.84,679.85 171.93,679.8 172.02,678.22 172.11,677.11 172.19,675.95 172.28,674.36 172.37,673.96 172.46,673.78 172.54,670.9 172.63,671.08 172.71,670.18 172.8,668.77 172.88,668.05 172.97,667.38 173.05,666.83 173.14,665.32 173.22,664.52 173.3,662.77 173.38,662.05 173.47,660.68 173.55,659.74 173.63,658.32 173.71,657.95 173.8,657.37 173.88,655.48 173.96,654.7 174.04,653.9 174.13,652.56 174.21,652.07 174.29,650.69 174.37,648.89 174.46,647.96 174.54,647.94 174.62,646.88 174.71,646.14 174.79,644.66 174.88,643.63 174.96,641.64 175.05,642.28 175.13,639.99 175.22,640.08 175.31,637.86 175.39,637.12 175.48,636.57 175.57,635.25 175.66,634.09 175.75,633.97 175.84,632.85 175.93,631.69 176.02,630.28 176.11,629 176.21,628.19 176.3,627.16 176.4,626.44 176.49,625.87 176.59,624.33 176.7,622.95 176.8,622.02 176.91,622.05 177.01,620.4 177.12,619.41 177.23,618.41 177.35,617.55 177.46,616.28 177.57,615.82 177.68,614.59 177.79,611.55 177.9,612.01 178.01,612.69 178.12,609.33 178.22,609.09 178.32,608.61 178.42,607 178.52,606.73 178.62,604.28 178.72,603.28 178.82,602.86 178.91,601.54 179.01,600.35 179.11,600.24 179.21,599.07 179.31,597.92 179.42,596.68 179.52,596.04 179.63,594.81 179.74,593.47 179.86,593.15 179.98,592.06 180.1,590.86 180.23,590.15 180.36,588.12 180.5,587.61 180.64,586.36 180.78,586.34 180.92,584.85 181.07,584.69 181.23,583.35 181.38,581.25 181.55,579.81 181.72,579.64 181.89,578.19 182.08,577.17 182.28,575.6 182.49,575.43 182.71,574.13 182.94,573.17 183.17,572.04 183.41,570.3 183.65,568.49 183.89,568.5 184.14,567.19 184.38,566.13 184.63,565.84 184.89,564.14 185.16,563.93 185.47,562.11 185.8,561.32 186.18,560.19 186.62,559.33 187.1,557.19 187.63,557.51 188.19,556.05 188.85,554.48 189.58,554.39 190.37,553.33 191.22,553.02 192.11,552 192.96,551.24 193.9,549.63 194.88,550.98 195.88,550.48 196.88,549.76 197.84,549.34 198.82,549.54 199.81,548.21 200.81,548.9 201.8,548.36 202.91,547.61 204.03,548.2 205.14,548.04 206.26,548.63 207.37,548.05 208.48,546.47 209.54,546.1 210.6,546.95 211.67,546.69 212.73,546.1 213.78,545.6 214.83,546.07 215.87,545.29 216.89,545.28 217.94,545.79 218.96,545.02 219.98,544.01 221,543.32 222.02,543.37 223.05,543.99 224.01,542.39 224.98,543.26 225.95,541.52 226.93,541.48 227.9,541.64 228.88,540.49 229.86,540.61 230.84,539.51 231.83,540.29 232.81,540.24 233.79,538.93 234.76,539.08 235.73,538.43 236.7,537.14 237.67,539.52 238.64,538.03 239.62,537.82 240.59,537.27 241.57,536.86 242.55,537.78 243.53,535.21 244.51,535.79 245.5,535.51 246.49,535.42 247.54,535.75 248.59,534.82 249.65,534.36 250.72,534.35 251.78,535.1 252.83,535.23 253.87,534.98 254.9,535.21 256,533.74 257.09,534.16 258.15,533.52 259.2,532.55 260.26,531.6 261.29,531.79 262.33,530.23 263.4,529.86 264.32,529.1 265.25,530.24 266.21,528.92 267.17,528.35 268.15,528.2 269.14,527.92 270.13,527.83 271.13,526.57 272.12,526.61 273.12,527.27 274.12,527.33 275.11,525.92 276.1,526.26 277.09,525.61 278.08,524.41 279.08,525.24 280.08,524.57 281.09,525.41 282.09,524.57 283.09,524.42 284.09,523.39 285.09,524.03 286.08,522.62 287.07,523.54 288.05,523.89 289.03,522.17 289.99,522.99 290.93,522.95 291.86,521.68 292.78,522 293.7,521 294.61,520.23 295.52,518.95 296.43,519.02 297.35,518.37 298.27,520.1 299.21,518.56 300.2,517.96 301.2,516.96 302.2,518.31 303.21,516.39 304.22,517.53 305.23,517 306.25,516.14 307.26,515.44 308.28,515.49 309.3,514.51 310.32,515.32 311.34,515.63 312.36,514.93 313.39,514.77 314.41,513.56 315.44,513.88 316.47,512.91 317.5,513 318.52,513.44 319.54,514.22 320.57,512.69 321.59,512.48 322.62,511.24 323.65,512.19 324.67,511.4 325.7,510.93 326.71,510.66 327.73,511.34 328.75,510.82 329.78,511.18 330.8,510.44 331.81,510.32 332.82,510.87 333.83,510.22 334.81,509.9 335.79,509.96 336.72,508.88 337.63,507.75 338.53,507.36 339.43,506.42 340.35,507 341.28,506.17 342.67,506.08 344.1,505.93 345.5,505.25 346.82,506.28 347.81,507.58 348.68,507.85 349.37,509.22 350.02,509.64" stroke="#0000FF" stroke-width="3.1"/>
<polyline points="163.6,770.5 163.69,769.51 163.78,768.68 163.88,767.35 163.97,766.63 164.06,765.44 164.15,764.44 164.24,763.76 164.34,762.49 164.43,761.46 164.52,760.57 164.61,759.62 164.7,758.44 164.79,757.53 164.89,756.29 164.98,755.38 165.07,754.37 165.16,753.23 165.25,752.2 165.34,751.17 165.43,750.38 165.52,749.38 165.61,748.36 165.71,747.41 165.8,746.2 165.89,745.38 165.98,744.42 166.07,743.5 166.16,742.25 166.25,741.32 166.34,740.07 166.43,739.29 166.52,738.03 166.61,737.15 166.7,736.52 166.8,735.02 166.89,734.46 166.98,733.39 167.07,732.29 167.16,731.4 167.25,730.41 167.34,729.48 167.43,728.28 167.52,727.23 167.61,726.22 167.71,725.16 167.8,724.29 167.89,723.18 167.98,722.45 168.07,721.01 168.16,720.12 168.25,719.14 168.35,717.96 168.44,717.56 168.53,715.91 168.62,715.22 168.71,714.18 168.8,713.5 168.9,711.95 168.99,711.41 169.08,710.13 169.17,709.21 169.26,708.13 169.36,707.33 169.45,706.05 169.54,705.21 169.64,704.27 169.73,703.49 169.82,701.85 169.91,701.43 170.01,700.34 170.1,699.12 170.19,698.24 170.29,697.12 170.38,696.43 170.48,695.21 170.57,694.14 170.66,693.14 170.76,692.14 170.85,691.14 170.95,690.03 171.04,689.46 171.14,687.87 171.23,686.61 171.33,686.13 171.42,685.12 171.52,684.19 171.62,683.1 171.71,682.11 171.81,681.17 171.9,680.27 172,679.05 172.1,678.06 172.19,677.4 172.29,676.18 172.39,674.94 172.49,674.42 172.58,673.18 172.68,671.96 172.77,670.87 172.87,670.07 172.96,668.89 173.06,667.85 173.15,666.8 173.24,665.91 173.34,665.14 173.43,663.89 173.53,662.73 173.62,662.04 173.71,660.93 173.81,660.04 173.9,659.08 173.99,657.86 174.09,656.85 174.18,655.86 174.28,654.68 174.37,653.94 174.47,653.03 174.56,651.84 174.66,650.77 174.75,649.75 174.85,648.66 174.95,647.65 175.05,646.7 175.15,645.62 175.24,644.67 175.34,643.49 175.45,642.77 175.55,641.71 175.65,640.52 175.75,639.34 175.86,638.67 175.96,637.83 176.07,636.54 176.17,635.57 176.28,634.54 176.39,633.72 176.5,632.47 176.61,631.75 176.72,630.55 176.84,629.72 176.95,628.58 177.07,627.53 177.19,626.33 177.31,625.44 177.43,624.5 177.55,623.63 177.67,622.56 177.8,621.41 177.92,620.57 178.06,619.61 178.21,618.39 178.37,617.3 178.53,616.26 178.69,615.39 178.86,614.31 179.03,613.04 179.19,612.19 179.35,611.01 179.5,609.93 179.64,609.22 179.77,608.14 179.9,606.9 180.02,606.01 180.14,605.05 180.26,603.87 180.38,602.93 180.5,602.04 180.61,600.66 180.73,599.96 180.86,599.01 180.98,597.96 181.12,596.68 181.25,595.92 181.4,594.73 181.55,593.94 181.72,592.95 181.89,591.89 182.09,590.65 182.32,589.59 182.57,588.73 182.83,587.38 183.1,586.51 183.39,585.44 183.7,584.25 184.01,583.58 184.32,582.17 184.63,581.5 184.94,579.89 185.27,578.87 185.61,578.38 185.97,577.36 186.35,576.26 186.76,575.36 187.19,574.17 187.73,573.34 188.32,572.27 188.97,571.4 189.66,570.61 190.37,569.55 191.1,568.71 191.83,567.71 192.6,566.91 193.4,566.17 194.23,565.33 195.09,564.82 195.98,563.82 196.88,563.63 197.78,562.69 198.73,562.55 199.71,561.85 200.71,561.82 201.72,561.2 202.72,560.85 203.71,560.48 204.65,559.86 205.6,559.38 206.54,558.81 207.48,558.87 208.42,558.16 209.36,557.75 210.3,557.4 211.24,557.28 212.18,556.3 213.12,556.16 214.06,555.64 215.01,555.36 215.95,554.58 216.89,554.37 217.83,554.13 218.76,553.81 219.7,553.39 220.63,552.59 221.56,552.29 222.49,551.82 223.43,551.2 224.36,550.75 225.29,550.65 226.23,550.14 227.17,549.66 228.1,549.45 229.04,548.7 229.99,548.53 230.93,548.05 231.88,547.66 232.84,547.37 233.79,546.96 234.77,546.61 235.75,546.27 236.73,546.18 237.72,545.51 238.71,545.38 239.7,545 240.7,544.54 241.7,544.41 242.7,543.85 243.7,543.85 244.7,543.25 245.7,543 246.7,542.82 247.7,542.6 248.7,542.3 249.7,542 250.7,541.52 251.76,541.08 252.82,540.97 253.88,540.61 254.94,540.09 256.01,540.05 257.07,539.61 258.13,539.11 259.2,539 260.19,538.44 261.18,538.2 262.17,538.1 263.17,537.51 264.16,537.45 265.16,536.94 266.15,536.96 267.15,536.45 268.14,536.29 269.14,535.74 270.13,535.62 271.13,535.52 272.12,535.16 273.11,534.52 274.11,534.64 275.1,534.34 276.1,533.86 277.09,533.83 278.08,533.16 279.07,533.01 280.06,532.89 281.06,532.62 282.05,532.31 283.04,531.66 284.03,531.26 285.02,531.29 286.01,530.72 287.01,530.63 288,530.17 289,530.24 289.99,529.93 291.01,529.62 292.02,529.27 293.03,529.01 294.05,528.7 295.06,528.55 296.08,528.27 297.1,528.05 298.11,527.67 299.13,527.77 300.15,527.28 301.17,527.2 302.19,526.94 303.2,526.36 304.22,525.99 305.24,526.18 306.25,525.67 307.27,525.49 308.28,525.17 309.25,524.97 310.23,524.51 311.2,524.41 312.17,524.09 313.13,523.89 314.1,523.27 315.07,523.47 316.04,523.12 317.01,522.54 317.98,522.42 318.94,522.26 319.91,522.08 320.88,521.72 321.85,521.66 322.82,521.19 323.79,520.78 324.77,520.58 325.74,520.54 326.71,520.09 327.72,520.07 328.74,519.85 329.75,519.54 330.76,519.37 331.78,518.95 332.79,518.75 333.81,518.43 334.82,518.2 335.84,517.83 336.86,517.75 337.87,517.45 338.89,517.18 339.91,517.19 340.93,517.02 341.95,516.68 342.97,516.72 343.98,516.44 345,516.24 346.02,515.78 347.03,515.43 348.04,515.53 349.06,515.28 350.07,515.13 351.09,514.87 352.1,514.79 353.12,514.35 354.14,514.29 355.15,513.85 356.17,513.43 357.18,513.51 358.2,513.6 359.22,512.93 360.24,513.13 361.25,512.69 362.27,512.53 363.29,512.41 364.31,512.25 365.33,511.88 366.35,511.86 367.37,511.72 368.39,511.59 369.41,511.17 370.43,511.33 371.45,511.2 372.47,511.1 373.49,510.36 374.51,510.41 375.54,509.93 376.56,510.1 377.58,509.95 378.6,509.53 379.63,509.3 380.65,509.41 381.67,509.31 382.7,508.95 383.72,508.88 384.74,508.39 385.77,508.52 386.79,508.51 387.82,508.38 388.85,508.45 389.87,507.91 390.9,507.61 391.92,507.87 392.95,507.58 393.97,507.57 395,507.49 396.04,507.32 397.09,507.29 398.13,507.13 399.18,506.52 400.22,506.6 401.26,506.76 402.31,506.24 403.35,506.29 404.4,505.97 405.44,505.76 406.49,505.91 407.53,505.67 408.57,505.32 409.62,505.34 410.66,504.86 411.71,504.8 412.75,504.88 413.78,504.58 414.82,504.24 415.86,504.28 416.89,504.08 417.93,504.05 418.97,503.83 420.01,503.5 421.05,503.34 422.09,503.29 423.13,503.21 424.17,503.43 425.25,503.43 426.34,503.39 427.42,503.23 428.51,503.13 429.6,503.29 430.68,503.1 431.77,503.18 432.85,502.89 433.93,503.07 435.01,503.35 436.2,503.03 437.42,503.1 438.62,503.51 439.76,504.06 440.79,504.34 441.7,504.67 442.54,505.57 443.32,506.59 443.97,507.26 444.59,508.24 445.19,509.04 445.8,509.93" stroke="#FF0000" stroke-width="3.1"/>
</g>
<polygon points="251,516 265.6,516 258.3,530.2" fill="#0033CC"/>
<polygon points="289.7,503.7 304.3,503.7 297,517.9" fill="#0033CC"/>
<polygon points="335.9,490 350.5,490 343.2,504.2" fill="#0033CC"/>
<polygon points="338.7,530.9 345.8,545.3 331.6,545.3" fill="#000"/>
<polygon points="363.5,523.6 370.6,538 356.4,538" fill="#000"/>
<polygon points="387.6,523.6 394.7,538 380.5,538" fill="#000"/>
<polygon points="400.3,519.3 407.4,533.7 393.2,533.7" fill="#000"/>
<polygon points="434.2,514.3 441.3,528.7 427.1,528.7" fill="#000"/>
<polygon points="457.5,510 464.6,524.4 450.4,524.4" fill="#000"/>
<polygon points="479.8,509.6 486.9,524 472.7,524" fill="#000"/>
<path d="M163.6 770.5h6M163.6 752.81h3.5M163.6 735.12h6M163.6 717.44h3.5M163.6 699.75h6M163.6 682.06h3.5M163.6 664.38h6M163.6 646.69h3.5M163.6 629h6M163.6 611.31h3.5M163.6 593.62h6M163.6 575.94h3.5M163.6 558.25h6M163.6 540.56h3.5M163.6 522.88h6M163.6 505.19h3.5M163.6 487.5h6M163.6 770.5v-6M211.35 770.5v-3.5M259.1 770.5v-6M306.85 770.5v-3.5M354.6 770.5v-6M402.35 770.5v-3.5M450.1 770.5v-6M497.85 770.5v-3.5M545.6 770.5v-6" stroke="#000" stroke-width="1.6" fill="none"/>
<rect x="487.6" y="719.2" width="51.6" height="45.5" fill="#000"/>
<rect x="482.8" y="715.3" width="52" height="44.6" fill="#fff" stroke="#888" stroke-width="0.9"/>
<line x1="488.5" y1="725.2" x2="514" y2="725.2" stroke="#000" stroke-width="2.8" stroke-linecap="round"/>
<text transform="translate(516.5 729)" font-size="10.6" font-weight="bold" text-anchor="start">AB</text>
<line x1="488.5" y1="739.1" x2="514" y2="739.1" stroke="#0000FF" stroke-width="2.8" stroke-linecap="round"/>
<text transform="translate(516.5 742.9)" font-size="10.6" font-weight="bold" text-anchor="start">PA</text>
<line x1="488.5" y1="753.3" x2="514" y2="753.3" stroke="#FF0000" stroke-width="2.8" stroke-linecap="round"/>
<text transform="translate(516.5 757.1)" font-size="10.6" font-weight="bold" text-anchor="start">FA</text>
<rect x="163.6" y="487.5" width="382" height="283" fill="none" stroke="#000" stroke-width="1.9"/>
<text transform="translate(156.1 774.9)" font-size="16.8" font-weight="bold" text-anchor="end">0</text>
<text transform="translate(156.1 739.52)" font-size="16.8" font-weight="bold" text-anchor="end">50</text>
<text transform="translate(156.1 704.15)" font-size="16.8" font-weight="bold" text-anchor="end">100</text>
<text transform="translate(156.1 668.77)" font-size="16.8" font-weight="bold" text-anchor="end">150</text>
<text transform="translate(156.1 633.4)" font-size="16.8" font-weight="bold" text-anchor="end">200</text>
<text transform="translate(156.1 598.02)" font-size="16.8" font-weight="bold" text-anchor="end">250</text>
<text transform="translate(156.1 562.65)" font-size="16.8" font-weight="bold" text-anchor="end">300</text>
<text transform="translate(156.1 527.27)" font-size="16.8" font-weight="bold" text-anchor="end">350</text>
<text transform="translate(156.1 491.9)" font-size="16.8" font-weight="bold" text-anchor="end">400</text>
<text transform="translate(163.6 789.2)" font-size="16.8" font-weight="bold" text-anchor="middle">0</text>
<text transform="translate(259.1 789.2)" font-size="16.8" font-weight="bold" text-anchor="middle">2</text>
<text transform="translate(354.6 789.2)" font-size="16.8" font-weight="bold" text-anchor="middle">4</text>
<text transform="translate(450.1 789.2)" font-size="16.8" font-weight="bold" text-anchor="middle">6</text>
<text transform="translate(545.6 789.2)" font-size="16.8" font-weight="bold" text-anchor="middle">8</text>
<text transform="translate(354.5 819)" font-size="22" font-weight="bold" text-anchor="middle">Engineering strain, %</text>
<text transform="translate(113.2 629) rotate(-90)" font-size="22.6" font-weight="bold" text-anchor="middle">Engineering stress, MPa</text>
<line x1="759.59" y1="488.2" x2="759.59" y2="770" stroke="#a0a0a0" stroke-width="1"/>
<line x1="810.89" y1="488.2" x2="810.89" y2="770" stroke="#a0a0a0" stroke-width="1"/>
<line x1="862.18" y1="488.2" x2="862.18" y2="770" stroke="#a0a0a0" stroke-width="1"/>
<line x1="913.47" y1="488.2" x2="913.47" y2="770" stroke="#a0a0a0" stroke-width="1"/>
<line x1="964.77" y1="488.2" x2="964.77" y2="770" stroke="#a0a0a0" stroke-width="1"/>
<line x1="1016.06" y1="488.2" x2="1016.06" y2="770" stroke="#a0a0a0" stroke-width="1"/>
<line x1="1067.35" y1="488.2" x2="1067.35" y2="770" stroke="#a0a0a0" stroke-width="1"/>
<line x1="708.3" y1="741.82" x2="1093" y2="741.82" stroke="#a0a0a0" stroke-width="1"/>
<line x1="708.3" y1="713.64" x2="1093" y2="713.64" stroke="#a0a0a0" stroke-width="1"/>
<line x1="708.3" y1="685.46" x2="1093" y2="685.46" stroke="#a0a0a0" stroke-width="1"/>
<line x1="708.3" y1="657.28" x2="1093" y2="657.28" stroke="#a0a0a0" stroke-width="1"/>
<line x1="708.3" y1="629.1" x2="1093" y2="629.1" stroke="#a0a0a0" stroke-width="1"/>
<line x1="708.3" y1="600.92" x2="1093" y2="600.92" stroke="#a0a0a0" stroke-width="1"/>
<line x1="708.3" y1="572.74" x2="1093" y2="572.74" stroke="#a0a0a0" stroke-width="1"/>
<line x1="708.3" y1="544.56" x2="1093" y2="544.56" stroke="#a0a0a0" stroke-width="1"/>
<line x1="708.3" y1="516.38" x2="1093" y2="516.38" stroke="#a0a0a0" stroke-width="1"/>
<g fill="none" stroke-linejoin="round">
<polyline points="734.9,488.2 735.9,507.3 736.7,509.42 737.5,525 738.3,534.08 739.1,539 739.8,548.97 740.5,548 741.4,548.08 742.3,553.8 742.97,547.04 743.65,554.54 744.33,558.08 745,556 745.6,563.09 746.2,551.41 746.8,552.04 747.4,564.08 748,563.86 748.6,562.3 749.28,570.28 749.96,566.78 750.64,560.36 751.32,558.95 752,560 752.67,576.14 753.33,562.41 754,566 754.62,562.2 755.24,560.78 755.86,568.09 756.48,568.88 757.1,568.6 757.83,565.3 758.55,565.46 759.27,565.9 760,563 760.68,565.81 761.36,567.03 762.04,561.15 762.72,549.16 763.4,558 764.2,565.86 765,566 765.67,559.52 766.33,567.72 767,570 767.7,562.59 768.4,571.41 769.1,567.82 769.8,572.8 770.44,572.62 771.08,588.23 771.72,568.45 772.36,571.99 773,566 773.62,561.36 774.24,569.7 774.86,577.56 775.48,576.05 776.1,579.2 776.75,580.04 777.4,577.37 778.05,570.07 778.7,577.5 779.35,568.73 780,572 780.62,582.38 781.24,569.4 781.87,576.04 782.49,572.37 783.11,577.68 783.73,569.22 784.36,578.12 784.98,572.03 785.6,572.8 786.24,581.87 786.88,580.47 787.52,579.94 788.16,576.99 788.8,583.4 789.4,586.57 790,583.86 790.6,589.26 791.2,577.1 791.8,581.17 792.4,579.85 793,576 793.61,578.91 794.23,579.86 794.84,581.07 795.46,578.14 796.07,577.21 796.69,581.96 797.3,585.5 797.92,586.85 798.54,590.01 799.16,585.17 799.78,583.69 800.4,576 801.04,582.6 801.68,584.48 802.32,583.97 802.96,589.52 803.6,587.6 804.23,596.27 804.86,583.63 805.49,580.53 806.11,594.04 806.74,583.52 807.37,586.43 808,580 808.62,585.78 809.24,575.69 809.86,596.29 810.48,593.65 811.1,585.82 811.72,589.96 812.34,587.49 812.96,582.9 813.58,588.11 814.2,589.7 814.84,590.68 815.49,593.68 816.13,590.37 816.78,585.72 817.42,591.76 818.07,579.05 818.71,586.52 819.36,587.19 820,580 820.62,579.08 821.24,571.53 821.85,577.09 822.47,584.07 823.09,586.36 823.71,592.66 824.33,579.31 824.95,585.54 825.56,589.79 826.18,586.04 826.8,587.6 827.4,573.97 828,590.84 828.6,598.52 829.2,590.72 829.8,579.55 830.4,581.73 831,583.4 831.61,585.82 832.23,599.49 832.84,590.4 833.46,588.83 834.07,597.97 834.69,590.15 835.3,591.8 835.97,600.92 836.64,585.8 837.31,585.85 837.99,591.31 838.66,594.06 839.33,588.71 840,584 840.66,586.06 841.31,574.78 841.97,581.28 842.62,582.24 843.28,583.07 843.93,589.63 844.59,584.96 845.24,591.53 845.9,587.6 846.53,588.47 847.16,586.61 847.79,589.51 848.42,591.64 849.05,594.42 849.68,587.49 850.31,589.26 850.94,583.46 851.57,600.2 852.2,591.8 852.83,598.15 853.47,587.55 854.1,584.27 854.73,578.47 855.37,584.57 856,582 856.67,584.47 857.33,596.67 858,587.35 858.67,583.06 859.33,575.22 860,590 860.6,597.35 861.2,590.24 861.8,579.95 862.4,589.39 863,579.15 863.6,606.74 864.2,593.35 864.8,589.95 865.4,585.44 866,586 866.6,575.03 867.2,586.9 867.8,579.85 868.4,592.48 869,578.24 869.6,585.81 870.2,598.31 870.8,601.44 871.4,586.7 872,594 872.6,585.16 873.2,598.04 873.8,597.49 874.4,586.97 875,588.18 875.6,587.78 876.2,584.66 876.8,587.06 877.4,597.28 878,590 878.66,597.28 879.31,608.29 879.97,599.99 880.62,603.21 881.28,602.04 881.93,610.25 882.59,607.2 883.24,608.14 883.9,621.4 884.6,626.67 885.3,625.99 886,625.7 886.6,621.56 887.2,617.02 887.8,610.58 888.4,604.28 889,600 889.67,593.44 890.33,586.22 891,578.67 891.67,571.3 892.33,564.89 893,560 893.67,549.99 894.33,540.18 895,530 895.75,524.43 896.5,520 897.2,508.96 897.9,494.5 898.8,560 899.5,699 900.5,640 901.25,620.21 902,600 902.67,599.37 903.33,598.8 904,595.02 904.67,592.3 905.33,594.24 906,592 906.67,592.17 907.33,595.57 908,595.41 908.67,597.21 909.33,597.92 910,598 910.67,596.34 911.33,600.53 912,599.69 912.67,600.43 913.33,601.64 914,603 914.6,606.32 915.2,608.86 915.8,611.41 916.4,610.61 917,615 917.65,622.17 918.3,627.9 918.95,638.5 919.6,646.5 920.4,635.05 921.2,621.25 922,610 922.6,606.69 923.2,603.08 923.8,600.41 924.4,594.61 925,592 925.63,588.07 926.27,585.22 926.9,583.2 927.52,586.66 928.14,587.23 928.76,587.13 929.38,588.91 930,590 930.62,591.39 931.25,592.74 931.88,593.5 932.5,594.6 933.12,594.74 933.75,596.73 934.38,600.73 935,600 935.6,604.64 936.2,608.08 936.8,611.74 937.4,616.08 938,620 938.68,628.62 939.36,635.62 940.04,644.84 940.72,653.09 941.4,661 942.2,639.6 943,620 943.67,599.05 944.33,578.8 945,560 945.9,545.87 946.8,534.3 947.65,540.72 948.5,545 949.13,550.67 949.77,561.68 950.4,570.5 951.2,564.52 952,560 952.67,542.86 953.33,527.32 954,510.8 954.75,536.75 955.5,560 956.5,620 957.2,770 957.7,488.2 958.3,770 959,600 959.67,600.01 960.33,599.67 961,599.02 961.67,599.51 962.33,600.68 963,599.5 963.61,601.84 964.22,603.75 964.83,606.42 965.44,609.42 966.06,611.89 966.67,617.69 967.28,619.6 967.89,621.7 968.5,624.8 969.2,621.59 969.9,614.09 970.6,610.82 971.3,605.92 972,600 972.64,593 973.28,587.85 973.92,583.47 974.56,580.53 975.2,574.3 976.1,581.21 977,585 977.6,583.57 978.2,586.34 978.8,584.66 979.4,584.69 980,585.2 980.6,585.14 981.2,586.01 981.8,584.82 982.4,586.4 983,586.72 983.6,588.8 984.2,596.64 984.8,605.81 985.4,613.83 986,617.4 986.6,622.98 987.2,632.3 988.1,660.86 989,690.4 989.73,683.82 990.45,681.88 991.18,674.74 991.9,668.6 992.8,620.58 993.7,574.3 994.35,583.6 995,591.29 995.65,596.87 996.3,607 996.9,607.56 997.5,609.11 998.1,610.62 998.7,611.96 999.3,612.59 999.9,614.2 1000.5,615.03 1001.1,614.7 1001.7,614.92 1002.3,618.42 1002.9,617.63 1003.5,617.8 1004.12,619.84 1004.73,618.92 1005.35,622.15 1005.97,624.85 1006.58,623.83 1007.2,626.9 1007.92,628.22 1008.64,626.43 1009.36,627.38 1010.08,626.74 1010.8,626.9 1011.4,623.53 1012,621.08 1012.6,615.52 1013.2,614.24 1013.8,607.79 1014.4,605.1 1015,606.1 1015.6,610.19 1016.2,610.17 1016.8,613.12 1017.4,616.77 1018,617.8 1018.62,612.6 1019.23,602.37 1019.85,598.46 1020.47,593.46 1021.08,585.98 1021.7,577.9 1022.42,579.79 1023.14,581.54 1023.86,584.08 1024.58,585.24 1025.3,588.8 1026.2,580.33 1027.1,572.5 1027.7,575.59 1028.3,578.96 1028.9,583.87 1029.5,585.49 1030.1,587.33 1030.7,592.4 1031.6,591.86 1032.5,588.8 1033.12,596.56 1033.75,606.36 1034.38,615.79 1035,625 1035.6,664.54 1036.2,704.9 1036.6,770 1037.1,560 1037.6,512.6 1038.3,520 1038.9,488.2 1039.4,770 1039.9,488.2 1040.4,740 1040.9,488.2 1041.3,740" stroke="#000" stroke-width="1.8"/>
<polyline points="737,488.2 738,528.4 739.1,545.21 740.2,570.7 741.25,576.7 742.3,581.3 743.1,583.09 743.9,585.11 744.7,592.08 745.5,591.8 746.5,598.6 747.5,605 748.6,612.38 749.7,621.4 750.75,616.26 751.8,600.3 752.85,604.12 753.9,610.9 754.7,605.51 755.5,603.58 756.3,604.52 757.1,604.5 758.05,610.23 759,612 760.15,618.76 761.3,620.4 762.1,620.92 762.9,620.16 763.7,616.87 764.5,608.8 765.3,606.55 766.1,604.38 766.9,598.12 767.7,591.8 768.73,594.45 769.77,602.88 770.8,604.5 771.6,602.72 772.4,599.81 773.2,604.38 774,596.1 774.8,608.08 775.6,613.79 776.4,624.53 777.2,634.1 778.2,540 778.8,507.3 779.9,507.3 780.6,540 781.4,583.4 782.45,603.34 783.5,608.8 784.3,604.99 785.1,604.74 785.9,601.17 786.7,595.9 787.77,593.45 788.83,589.52 789.9,583.4 790.93,588.44 791.97,594.83 793,602.4 793.8,607.38 794.6,612.08 795.4,620.92 796.2,623.6 797.27,620.69 798.33,605.53 799.4,600.3 800.43,606.36 801.47,605.95 802.5,613 803.3,605.76 804.1,601.84 804.9,597.6 805.7,591.8 806.77,575.14 807.83,553.03 808.9,545.3 809.7,577.03 810.5,600 811.4,635.84 812.3,673 813.2,600 813.8,488.2 814.5,488.2 815.2,564.4 816.25,572.13 817.3,583.4 818.4,576.14 819.5,564.4 820.55,591.25 821.6,621.4 822.63,607.36 823.67,603.32 824.7,591.8 825.77,597.47 826.83,597.92 827.9,604.5 828.7,601.94 829.5,595.25 830.3,585.39 831.1,583.4 832.13,598.06 833.17,602.71 834.2,610.9 835.27,601.25 836.33,599.71 837.4,591.8 838.2,597.65 839,605.52 839.8,603.76 840.6,613 841.67,609.26 842.73,601.9 843.8,591.8 844.65,572.98 845.5,549.6 846.5,520.92 847.5,488.2 848.5,520 849.7,613 850.8,488.2 851.7,494.51 852.6,492.5 853.45,555.1 854.3,613 855.35,581.85 856.4,549.6 857.5,576.82 858.6,608.8 859.65,599.64 860.7,583.4 861.73,595.02 862.77,601.4 863.8,608.8 864.6,605.18 865.4,602.66 866.2,588.56 867,591.8 867.8,597.7 868.6,593.91 869.4,607.02 870.2,610.9 871.27,610.74 872.33,609.75 873.4,600.3 874.43,602.56 875.47,608.83 876.5,610.9 877.3,609.24 878.1,601.09 878.9,608.47 879.7,604.5 880.53,610.23 881.37,616.12 882.2,621.4 883.05,625.03 883.9,634.1 884.7,612.07 885.5,590 886.3,570.19 887.1,549.6 888.15,572.64 889.2,587.6 890.25,559.04 891.3,528.4 892.35,519.06 893.4,488.2 894.3,488.2 895.6,634.1 896.6,580 897.7,539 899,620 899.9,660.2 900.8,702.6 901.5,640" stroke="#0000FF" stroke-width="2.1"/>
<polyline points="736.6,488.2 737.3,496.32 738,505 738.5,515.01 739,512.42 739.5,514.12 740,525 740.5,529.69 741,534.7 741.5,537.67 742,540 742.6,545.33 743.2,546.73 743.8,548.62 744.4,553.8 744.91,552.73 745.43,555.7 745.94,556.34 746.46,561.86 746.97,562.02 747.49,556.98 748,562 748.54,565.61 749.09,564.17 749.63,568.94 750.18,571.19 750.72,569.02 751.27,562.24 751.81,571.28 752.36,564.9 752.9,570.7 753.41,576.8 753.92,569.92 754.43,572.02 754.94,579.24 755.45,567.83 755.96,574.34 756.47,571.19 756.98,573.57 757.49,573.17 758,576 758.54,579.17 759.08,576.42 759.62,579.11 760.16,580.62 760.7,573.3 761.24,584.22 761.78,579.26 762.32,575.07 762.86,578.94 763.4,581.3 763.9,584.84 764.41,585.52 764.91,580.13 765.42,583.03 765.92,583.74 766.43,586.65 766.93,582.99 767.44,586.98 767.94,580.96 768.45,581.79 768.95,586.69 769.46,587.14 769.96,584.8 770.47,587.24 770.97,586.16 771.48,588.3 771.98,589.88 772.49,587.97 772.99,589.24 773.5,585.41 774,586.6 774.5,585.26 775.01,579.37 775.51,588.8 776.02,587.68 776.52,589.51 777.03,581.58 777.53,586.38 778.04,586.29 778.54,582.24 779.05,591.51 779.55,592.72 780.06,584.47 780.56,590.4 781.07,594.86 781.57,585.11 782.08,592.67 782.58,594.84 783.09,595.93 783.59,585.2 784.1,586.35 784.6,589.7 785.12,590.9 785.64,594.37 786.16,586.19 786.68,588.01 787.2,586.9 787.72,594.51 788.24,589.01 788.76,592.94 789.28,593.3 789.8,595.15 790.32,592.76 790.84,592.61 791.36,595.49 791.88,593.31 792.4,587.55 792.92,590.11 793.44,595.1 793.96,592.63 794.48,591.08 795,592 795.51,593.31 796.02,603.78 796.53,592.5 797.04,594.4 797.55,594.41 798.06,592.04 798.57,597.09 799.08,596.05 799.59,594.6 800.1,588.76 800.6,597.7 801.11,596.12 801.62,593.35 802.13,584.61 802.64,593.62 803.15,589.8 803.66,593.23 804.17,592.37 804.68,591.39 805.19,597.72 805.7,594 806.2,594.8 806.7,598.62 807.21,591.19 807.71,593.83 808.21,599.12 808.71,595.63 809.22,592.09 809.72,591.56 810.22,592.59 810.72,594.34 811.23,596.98 811.73,595.16 812.23,597.25 812.73,597.56 813.24,595.15 813.74,599.14 814.24,597.29 814.74,594.19 815.25,594.28 815.75,594.8 816.25,592.38 816.75,590.36 817.25,595.05 817.76,593.21 818.26,596.96 818.76,592.98 819.26,595.35 819.77,595.72 820.27,593.47 820.77,595.75 821.27,592.66 821.78,593.69 822.28,597.88 822.78,596.5 823.28,595.19 823.79,592.57 824.29,597.61 824.79,602.04 825.29,587.92 825.8,598.88 826.3,596.08 826.8,595 827.3,599.14 827.81,599.42 828.31,592.07 828.82,601.46 829.32,593.61 829.83,594.82 830.33,597.84 830.84,595.48 831.34,596.72 831.85,594.11 832.35,592.4 832.86,596.02 833.36,592.31 833.87,600.61 834.37,596.94 834.88,600.92 835.38,591.99 835.89,589.21 836.39,588.58 836.9,595.07 837.4,592.04 837.9,597.67 838.41,591.56 838.91,591.86 839.42,597.56 839.92,595.32 840.43,599 840.93,599.49 841.44,598.01 841.94,592.73 842.45,593.97 842.95,604.63 843.46,596.23 843.96,598.04 844.47,597.53 844.97,597.06 845.48,596.62 845.98,595.35 846.49,595.55 846.99,590.53 847.5,603.06 848,597.1 848.5,597.11 849,593.06 849.51,599.29 850.01,599.82 850.51,592.69 851.01,595.85 851.52,602.7 852.02,599.5 852.52,599.13 853.02,601.09 853.53,597.3 854.03,596.77 854.53,603.19 855.03,597.2 855.54,597.58 856.04,600.03 856.54,598.01 857.04,593.75 857.55,604.36 858.05,597.73 858.55,604.08 859.05,599.75 859.55,594.98 860.06,603.31 860.56,597.52 861.06,595.22 861.56,598.06 862.07,590.93 862.57,599.58 863.07,595.78 863.57,597.42 864.08,595.28 864.58,600.61 865.08,599.56 865.58,602.03 866.09,604.03 866.59,599.37 867.09,598.76 867.59,599.51 868.1,595.75 868.6,596.68 869.1,598.2 869.62,601.05 870.14,595.54 870.66,591.84 871.18,597.15 871.7,599.15 872.21,603.21 872.73,595.76 873.25,594.97 873.77,598.4 874.29,597.5 874.81,598.81 875.33,596.17 875.85,598.54 876.37,595.86 876.89,601.09 877.4,598.65 877.92,599.58 878.44,596.11 878.96,592.7 879.48,597.54 880,597.1 880.51,597.48 881.03,601.58 881.54,601.34 882.06,598.18 882.58,598.36 883.09,595.39 883.61,598.8 884.12,599.87 884.63,597.97 885.15,595.93 885.66,604.11 886.18,596.89 886.69,605.8 887.21,604.42 887.72,605.86 888.24,598.02 888.75,603.19 889.27,596.62 889.78,600.29 890.3,601.4 890.81,596.63 891.33,599.35 891.84,600.17 892.36,605.14 892.87,605.59 893.39,600.76 893.9,601.09 894.41,598.93 894.93,598.31 895.44,596.19 895.96,601.51 896.47,604.28 896.99,599.75 897.5,603.6 898.01,598.55 898.53,599.09 899.04,600.72 899.56,605.52 900.07,600.84 900.59,605.22 901.1,602.4 901.6,601.57 902.11,599.08 902.61,596.11 903.12,601.3 903.62,599.72 904.13,606.02 904.63,604.52 905.14,597.6 905.64,605.95 906.15,604.97 906.65,593.52 907.16,599.79 907.66,604.14 908.17,598.05 908.67,600.99 909.18,605.22 909.68,604.36 910.19,605.08 910.69,605.67 911.2,600.73 911.7,611.7 912.2,605.52 912.71,610.96 913.21,602.98 913.72,605.79 914.22,605.11 914.73,603.52 915.23,605.11 915.74,604.98 916.24,606.88 916.75,605.28 917.25,604.45 917.76,605.94 918.26,609.18 918.77,604.65 919.27,606.48 919.78,604.98 920.28,598.03 920.79,601.61 921.29,601.61 921.8,600.08 922.3,604.5 922.8,602.77 923.3,599.04 923.81,605.88 924.31,603.27 924.81,609.2 925.31,606.47 925.82,601.04 926.32,604.62 926.82,605.57 927.32,603.24 927.83,604.36 928.33,602.04 928.83,603.28 929.33,606.7 929.84,604.75 930.34,609.94 930.84,598.98 931.34,603.44 931.85,604.92 932.35,611.12 932.85,609.98 933.35,608.87 933.85,609.67 934.36,611.79 934.86,608.81 935.36,605.87 935.86,607.32 936.37,604.4 936.87,606.12 937.37,608.16 937.87,605.34 938.38,607.42 938.88,605.71 939.38,602.87 939.88,602.53 940.39,609.66 940.89,607.54 941.39,610.25 941.89,607.24 942.4,607.61 942.9,608.6 943.4,607.6 943.9,606.7 944.4,612.4 944.91,611.18 945.41,609.2 945.91,604.46 946.41,606.17 946.92,608.64 947.42,611.81 947.92,607.87 948.42,607.94 948.93,609.78 949.43,608.45 949.93,607.58 950.43,604.4 950.94,612.19 951.44,607.99 951.94,606.48 952.44,607.86 952.95,603.85 953.45,602.71 953.95,602.39 954.45,609.52 954.95,603.95 955.46,608.71 955.96,604.44 956.46,602.51 956.96,606.37 957.47,605.99 957.97,606.17 958.47,614.17 958.97,609.16 959.48,606.56 959.98,611.41 960.48,607.51 960.98,612.6 961.49,603.46 961.99,612.21 962.49,605.09 962.99,606.27 963.5,609.38 964,605.19 964.5,608.7 965.03,603.52 965.57,607.8 966.1,608.29 966.63,604.04 967.17,612.84 967.7,607.08 968.23,607.92 968.77,609.38 969.3,610.47 969.83,613.97 970.37,603.55 970.9,610.8 971.4,610.95 971.9,613.95 972.4,611.91 972.9,610.97 973.4,607.65 973.9,612.53 974.4,609.91 974.9,612.06 975.4,608.22 975.9,610.77 976.4,611.43 976.9,607.13 977.4,615.51 977.9,611.8 978.4,608.07 978.9,611.58 979.4,612.93 979.9,611.47 980.4,609.29 980.9,612.06 981.4,612.9 981.91,609.01 982.43,608.58 982.94,618.54 983.46,620.87 983.97,621.99 984.49,623.88 985,617 985.56,623.2 986.12,617.37 986.68,620.29 987.24,627.52 987.8,625.6 988.33,625.28 988.87,626.91 989.4,629.24 989.93,631.92 990.47,627.26 991,633 991.5,634.43 992,637.27 992.5,630.22 993,642.03 993.5,642.18 994,638.29 994.5,642.3" stroke="#FF0000" stroke-width="2.4"/>
</g>
<polygon points="950.45,473.5 964.95,473.5 957.7,487" fill="#000"/>
<polygon points="1033.55,473.5 1048.05,473.5 1040.8,487" fill="#000"/>
<polygon points="850.25,473.5 864.75,473.5 857.5,487" fill="#000"/>
<polygon points="895.75,473.5 910.25,473.5 903,487" fill="#000"/>
<polygon points="771.85,490.4 786.35,490.4 779.1,503.9" fill="#0033CC"/>
<polygon points="806.25,473.9 820.75,473.9 813.5,487.4" fill="#0033CC"/>
<polygon points="843.45,473.9 857.95,473.9 850.7,487.4" fill="#0033CC"/>
<polygon points="888.25,473.9 902.75,473.9 895.5,487.4" fill="#0033CC"/>
<path d="M708.3 770h6M708.3 755.91h3.5M708.3 741.82h6M708.3 727.73h3.5M708.3 713.64h6M708.3 699.55h3.5M708.3 685.46h6M708.3 671.37h3.5M708.3 657.28h6M708.3 643.19h3.5M708.3 629.1h6M708.3 615.01h3.5M708.3 600.92h6M708.3 586.83h3.5M708.3 572.74h6M708.3 558.65h3.5M708.3 544.56h6M708.3 530.47h3.5M708.3 516.38h6M708.3 502.29h3.5M708.3 488.2h6M708.3 770v-5.5M733.95 770v-3.5M759.59 770v-5.5M785.24 770v-3.5M810.89 770v-5.5M836.53 770v-3.5M862.18 770v-5.5M887.83 770v-3.5M913.47 770v-5.5M939.12 770v-3.5M964.77 770v-5.5M990.41 770v-3.5M1016.06 770v-5.5M1041.71 770v-3.5M1067.35 770v-5.5M1093 770v-3.5" stroke="#000" stroke-width="1.6" fill="none"/>
<rect x="722.1" y="710.1" width="63" height="53.2" fill="#000"/>
<rect x="717.6" y="706.3" width="63.6" height="52.8" fill="#fff" stroke="#888" stroke-width="0.9"/>
<line x1="723.1" y1="717.5" x2="756.1" y2="717.5" stroke="#000" stroke-width="1.8"/>
<text transform="translate(758.6 721.9)" font-size="13" font-weight="bold" text-anchor="start">AB</text>
<line x1="723.1" y1="734.7" x2="756.1" y2="734.7" stroke="#0000FF" stroke-width="1.8"/>
<text transform="translate(758.6 739.1)" font-size="13" font-weight="bold" text-anchor="start">PA</text>
<line x1="723.1" y1="751.3" x2="756.1" y2="751.3" stroke="#FF0000" stroke-width="1.8"/>
<text transform="translate(758.6 755.7)" font-size="13" font-weight="bold" text-anchor="start">FA</text>
<rect x="708.3" y="488.2" width="384.7" height="281.8" fill="none" stroke="#000" stroke-width="1.9"/>
<text transform="translate(699.2 774.6)" font-size="15.5" font-weight="bold" text-anchor="end">-10000</text>
<text transform="translate(699.2 746.42)" font-size="15.5" font-weight="bold" text-anchor="end">-8000</text>
<text transform="translate(699.2 718.24)" font-size="15.5" font-weight="bold" text-anchor="end">-6000</text>
<text transform="translate(699.2 690.06)" font-size="15.5" font-weight="bold" text-anchor="end">-4000</text>
<text transform="translate(699.2 661.88)" font-size="15.5" font-weight="bold" text-anchor="end">-2000</text>
<text transform="translate(699.2 633.7)" font-size="15.5" font-weight="bold" text-anchor="end">0</text>
<text transform="translate(699.2 605.52)" font-size="15.5" font-weight="bold" text-anchor="end">2000</text>
<text transform="translate(699.2 577.34)" font-size="15.5" font-weight="bold" text-anchor="end">4000</text>
<text transform="translate(699.2 549.16)" font-size="15.5" font-weight="bold" text-anchor="end">6000</text>
<text transform="translate(699.2 520.98)" font-size="15.5" font-weight="bold" text-anchor="end">8000</text>
<text transform="translate(699.2 492.8)" font-size="15.5" font-weight="bold" text-anchor="end">10000</text>
<text transform="translate(708.3 787.9)" font-size="15" font-weight="bold" text-anchor="middle">0.00</text>
<text transform="translate(759.59 787.9)" font-size="15" font-weight="bold" text-anchor="middle">0.01</text>
<text transform="translate(810.89 787.9)" font-size="15" font-weight="bold" text-anchor="middle">0.02</text>
<text transform="translate(862.18 787.9)" font-size="15" font-weight="bold" text-anchor="middle">0.03</text>
<text transform="translate(913.47 787.9)" font-size="15" font-weight="bold" text-anchor="middle">0.04</text>
<text transform="translate(964.77 787.9)" font-size="15" font-weight="bold" text-anchor="middle">0.05</text>
<text transform="translate(1016.06 787.9)" font-size="15" font-weight="bold" text-anchor="middle">0.06</text>
<text transform="translate(1067.35 787.9)" font-size="15" font-weight="bold" text-anchor="middle">0.07</text>
<text transform="translate(895 824)" font-size="23.8" font-weight="bold" text-anchor="middle">True Strain</text>
<text transform="translate(635.8 638.5) rotate(-90) scale(0.99 1)" font-size="23.4" font-weight="bold" text-anchor="middle">Strain Hardening Rate, MPa</text>
</svg></body></html>
